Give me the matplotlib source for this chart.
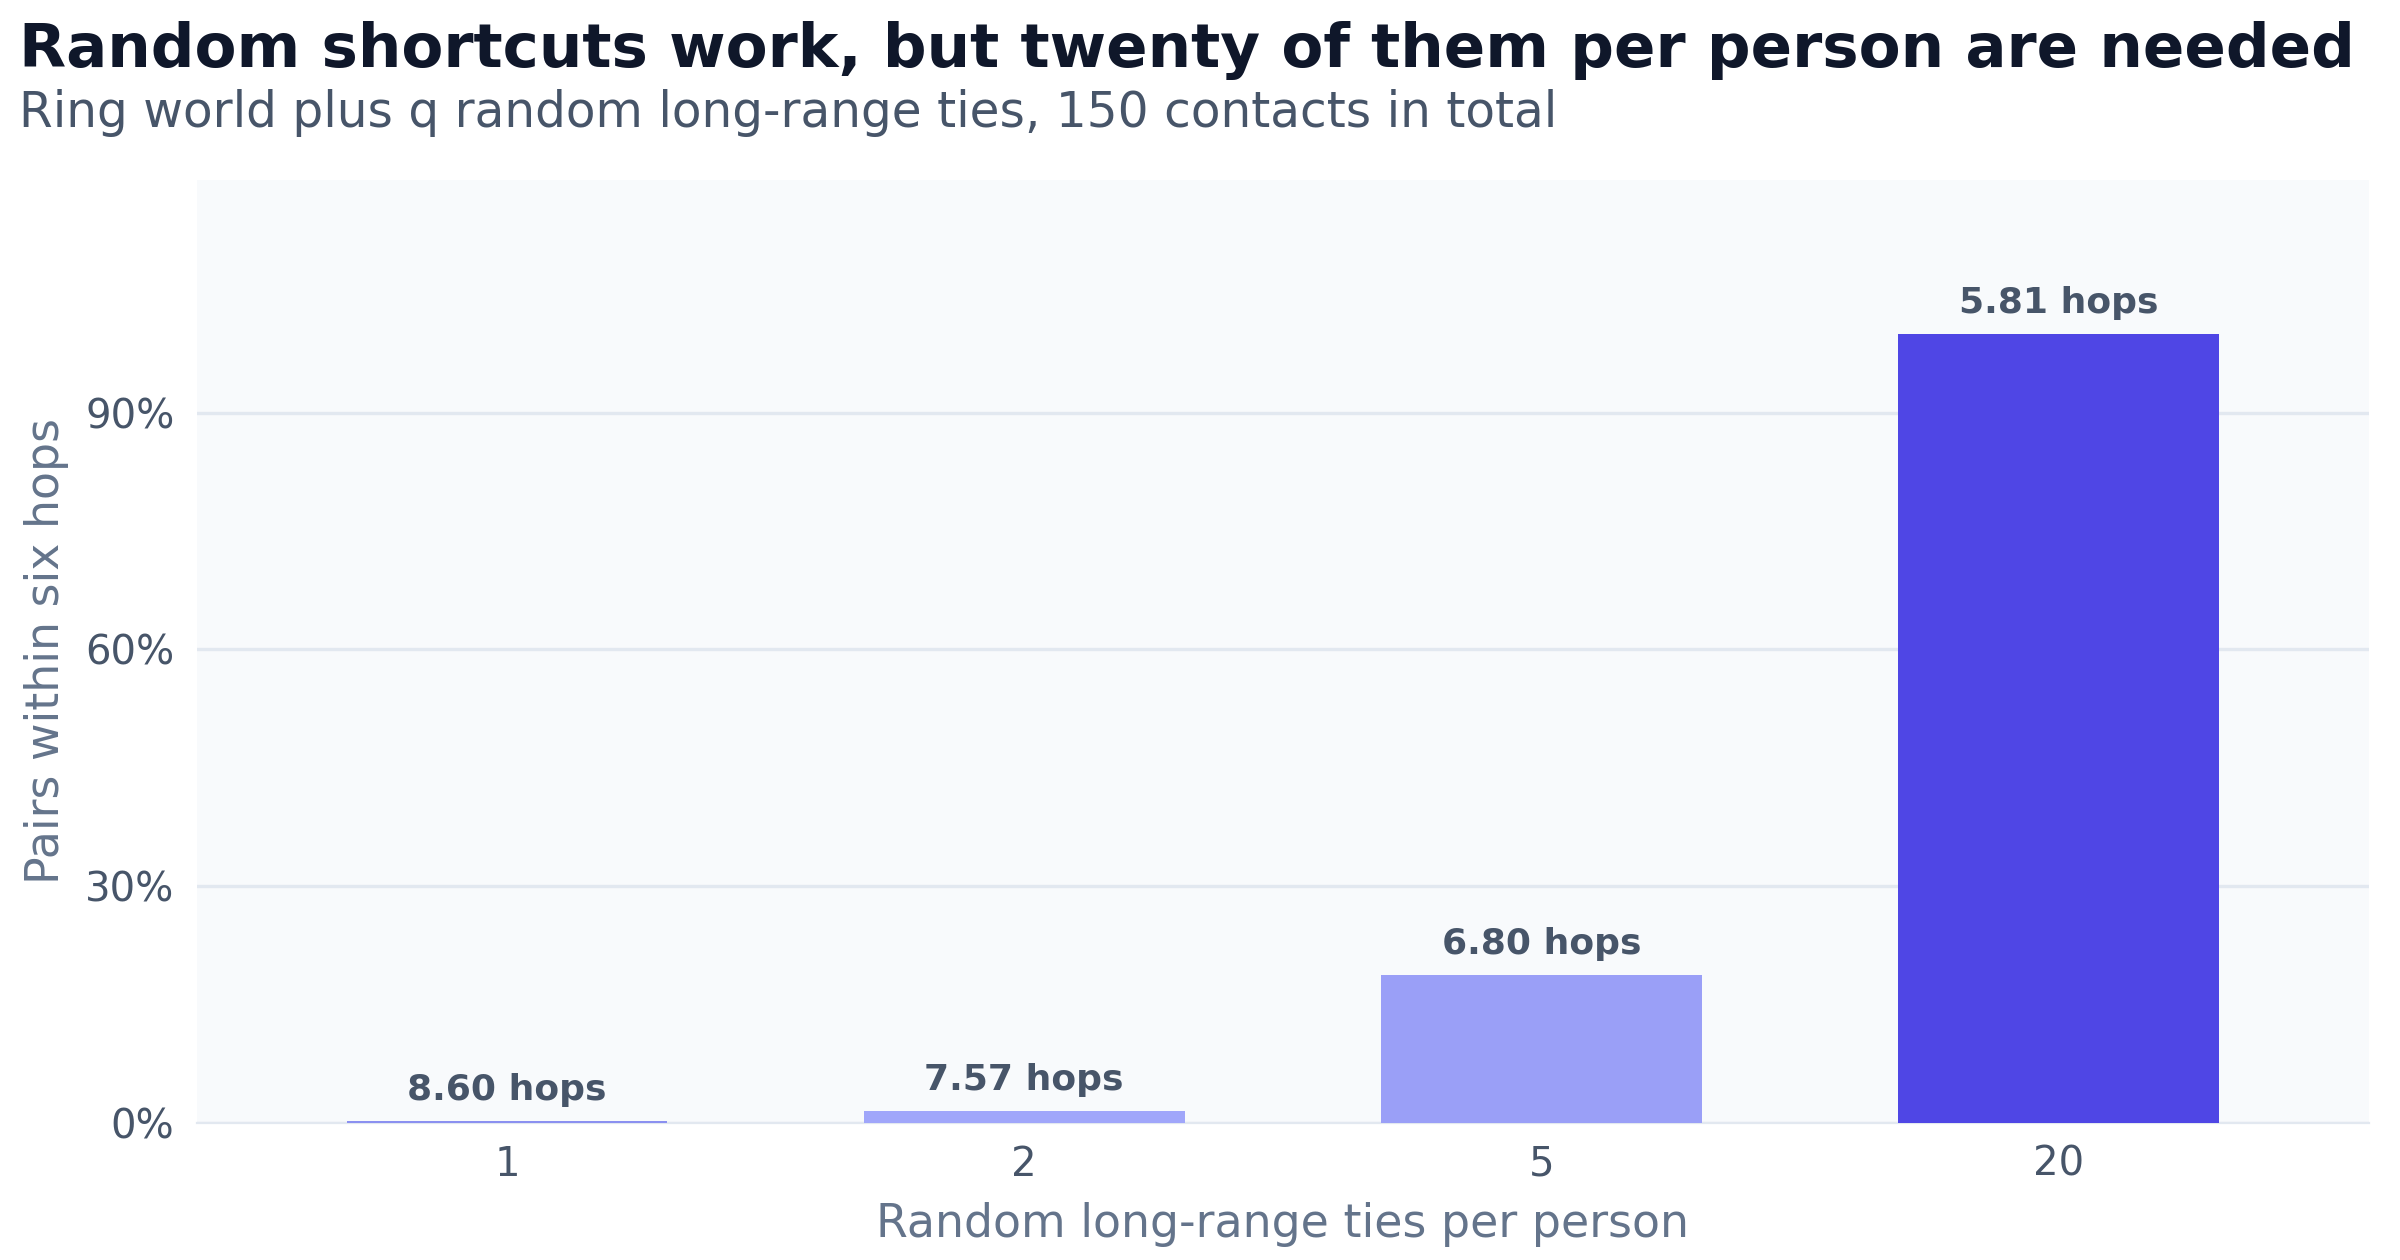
import matplotlib
matplotlib.use("Agg")
import matplotlib.pyplot as plt
from matplotlib.ticker import FuncFormatter

categories = ["1", "2", "5", "20"]
pct_within_six = [0.2, 1.5, 18.7, 100.0]
hops = [8.60, 7.57, 6.80, 5.81]
colors = ["#8b90f0", "#a0a6fa", "#9a9ff7", "#4f46e5"]

fig = plt.figure(figsize=(12, 6.3), dpi=200)
fig.patch.set_facecolor("white")
ax = fig.add_axes([0.082, 0.109, 0.905, 0.748])
ax.set_facecolor("#f8fafc")
x = range(len(categories))
ax.bar(x, pct_within_six, width=0.62, color=colors, zorder=3)
for i, (v, h) in enumerate(zip(pct_within_six, hops)):
    ax.annotate(f"{h:.2f} hops", (i, v), xytext=(0, 5), textcoords="offset points",
                ha="center", va="bottom", fontsize=13, fontweight="bold", color="#475569")
ax.set_ylim(0, 119.5)
ax.set_xlim(-0.6, 3.6)
ax.set_yticks([0, 30, 60, 90])
ax.yaxis.set_major_formatter(FuncFormatter(lambda v, p: f"{v:.0f}%"))
ax.set_xticks(list(x))
ax.set_xticklabels(categories)
ax.grid(axis="y", color="#e2e8f0", linewidth=1.2, zorder=0)
for s in ["top", "right", "left"]:
    ax.spines[s].set_visible(False)
ax.spines["bottom"].set_color("#e2e8f0")
ax.tick_params(length=0, labelsize=14.5, colors="#475569", pad=8)
ax.set_xlabel("Random long-range ties per person", fontsize=16.5, color="#64748b", labelpad=6)
ax.set_ylabel("Pairs within six hops", fontsize=16.5, color="#64748b", labelpad=6)
fig.text(0.008, 0.96, "Random shortcuts work, but twenty of them per person are needed",
         fontsize=22, fontweight="bold", color="#0f172a", va="center")
fig.text(0.008, 0.91, "Ring world plus q random long-range ties, 150 contacts in total",
         fontsize=17.5, color="#475569", va="center")
fig.savefig("out.png", dpi=200)
